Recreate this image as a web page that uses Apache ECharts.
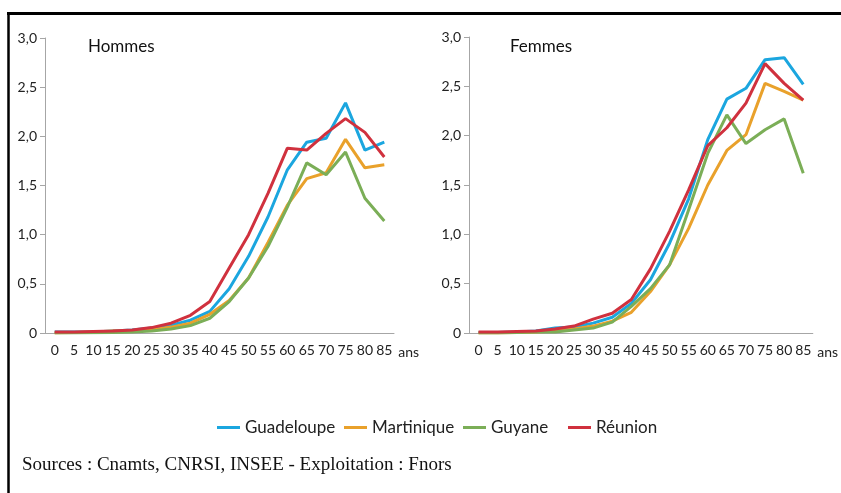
<!DOCTYPE html>
<html>
<head>
<meta charset="utf-8">
<script src="https://cdn.jsdelivr.net/npm/echarts@6/dist/echarts.min.js"></script>
<style>
html,body{margin:0;padding:0;background:#fff;}
#main{width:841px;height:493px;}
</style>
</head>
<body>
<div id="main"></div>
<script>
const ages = ['0','5','10','15','20','25','30','35','40','45','50','55','60','65','70','75','80','85'];
const yTicks = ['0','0,5','1,0','1,5','2,0','2,5','3,0'];
const seriesNames = ['Guadeloupe','Martinique','Guyane','Réunion'];

// Hommes
const hGuadeloupe = [0.01,0.01,0.01,0.02,0.03,0.05,0.08,0.13,0.22,0.45,0.78,1.18,1.66,1.94,1.98,2.34,1.86,1.94];
const hMartinique = [0.00,0.005,0.01,0.02,0.02,0.03,0.06,0.10,0.19,0.33,0.56,0.92,1.30,1.57,1.63,1.97,1.68,1.71];
const hGuyane     = [0.00,0.00,0.003,0.005,0.01,0.02,0.04,0.075,0.15,0.32,0.56,0.88,1.28,1.73,1.61,1.84,1.37,1.14];
const hReunion    = [0.01,0.01,0.015,0.02,0.03,0.055,0.10,0.18,0.32,0.66,1.00,1.42,1.88,1.86,2.03,2.18,2.04,1.79];

// Femmes
const fGuadeloupe = [0.005,0.005,0.01,0.02,0.05,0.06,0.10,0.16,0.30,0.54,0.91,1.36,1.96,2.37,2.48,2.77,2.79,2.52];
const fMartinique = [0.00,0.00,0.005,0.01,0.02,0.04,0.07,0.12,0.21,0.42,0.69,1.06,1.50,1.85,2.01,2.53,2.45,2.36];
const fGuyane     = [0.00,0.00,0.005,0.01,0.01,0.03,0.05,0.11,0.27,0.45,0.69,1.25,1.82,2.21,1.92,2.06,2.17,1.62];
const fReunion    = [0.01,0.01,0.015,0.02,0.04,0.07,0.14,0.20,0.34,0.65,1.03,1.45,1.90,2.08,2.33,2.73,2.53,2.36];

const colors = ['#1ba6df','#e9a12b','#7bae57','#d0313e'];
const FONT = 'Lato,"Open Sans",sans-serif';

function xAxis(gridIndex){
  return {
    type:'category', gridIndex, data:ages, boundaryGap:true,
    axisLine:{lineStyle:{color:'#a6a6a6',width:1}},
    axisTick:{length:5,lineStyle:{color:'#a6a6a6'}},
    axisLabel:{color:'#222',fontFamily:FONT,fontSize:14,margin:10,interval:0},
    name:'ans', nameLocation:'end', nameGap:2,
    nameTextStyle:{color:'#222',fontFamily:FONT,fontSize:14,verticalAlign:'top',padding:[12,0,0,0]}
  };
}
function yAxis(gridIndex){
  return {
    type:'value', gridIndex, min:0, max:3, interval:0.5,
    axisLine:{show:true,lineStyle:{color:'#a6a6a6',width:1}},
    axisTick:{show:true,length:5,lineStyle:{color:'#a6a6a6'}},
    splitLine:{show:false},
    axisLabel:{color:'#222',fontFamily:FONT,fontSize:14,margin:8,
      formatter:(v)=>yTicks[Math.round(v/0.5)]}
  };
}
function line(name, data, idx, color){
  return {type:'line', name, data, xAxisIndex:idx, yAxisIndex:idx, symbol:'none',
    lineStyle:{width:3,color}, itemStyle:{color}, animation:false};
}

const legendLefts = [212,339,458,563];
const legends = seriesNames.map((n,i)=>({
  data:[n], left:legendLefts[i], top:414, icon:'rect', itemWidth:23, itemHeight:3, itemGap:0,
  textStyle:{color:'#222',fontFamily:FONT,fontSize:17}, selectedMode:false
}));

const chart = echarts.init(document.getElementById('main'));
chart.setOption({
  backgroundColor:'#fff',
  animation:false,
  grid:[
    {left:45, top:38, width:349, height:295},
    {left:469, top:37, width:348, height:296}
  ],
  xAxis:[xAxis(0), xAxis(1)],
  yAxis:[yAxis(0), yAxis(1)],
  legend:legends,
  series:[
    line('Guadeloupe',hGuadeloupe,0,colors[0]),
    line('Martinique',hMartinique,0,colors[1]),
    line('Guyane',hGuyane,0,colors[2]),
    line('Réunion',hReunion,0,colors[3]),
    line('Guadeloupe',fGuadeloupe,1,colors[0]),
    line('Martinique',fMartinique,1,colors[1]),
    line('Guyane',fGuyane,1,colors[2]),
    line('Réunion',fReunion,1,colors[3])
  ],
  graphic:[
    {type:'line', shape:{x1:7,y1:13.5,x2:841,y2:13.5}, style:{stroke:'#000',lineWidth:3}},
    {type:'line', shape:{x1:8.5,y1:12,x2:8.5,y2:493}, style:{stroke:'#000',lineWidth:2.5}},
    {type:'text', left:88, top:38, style:{text:'Hommes',font:'17px '+FONT,fill:'#111'}},
    {type:'text', left:510, top:38, style:{text:'Femmes',font:'17px '+FONT,fill:'#111'}},
    {type:'text', left:22, top:456, style:{text:'Sources : Cnamts, CNRSI, INSEE - Exploitation : Fnors',font:'19px "Liberation Serif","Times New Roman",serif',fill:'#111'}}
  ]
});
</script>
</body>
</html>
